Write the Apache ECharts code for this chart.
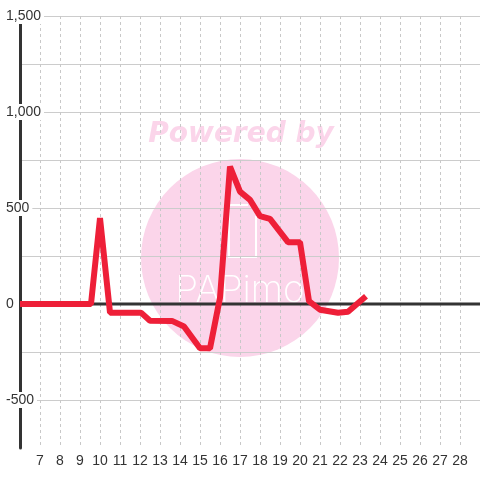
<!DOCTYPE html>
<html>
<head>
<meta charset="utf-8">
<script src="https://cdn.jsdelivr.net/npm/echarts@6/dist/echarts.min.js"></script>
<style>
html,body{margin:0;padding:0;background:#ffffff;}
#chart{width:480px;height:480px;}
</style>
</head>
<body>
<div id="chart"></div>
<script>
// Time of day (hours) for each point of the line
const times = [6, 9.55, 10, 10.5, 12.05, 12.5, 13.6, 14.2, 15, 15.5, 16, 16.5, 17, 17.5, 18, 18.5, 19.4, 20, 20.45, 21, 21.9, 22.4, 23.3];
// Values at those times
const values = [0, 0, 448, -45, -45, -87, -88, -117, -231, -231, 33, 716, 585, 542, 458, 443, 322, 322, 15, -30, -46, -40, 40];
// Axis ranges
const xRange = [6, 29];
const yRange = [-750, 1500];
const yLabelStep = 500;
// Zero reference line endpoints (in data units)
const zeroTimes = [6, 29];
const zeroValues = [0, 0];

const lineData = times.map((t, i) => [t, values[i]]);
const zeroData = zeroTimes.map((t, i) => [t, zeroValues[i]]);

const chart = echarts.init(document.getElementById('chart'), null, {renderer: 'canvas'});
const PINK = '#fbd5ea';
chart.setOption({
  backgroundColor: '#ffffff',
  animation: false,
  grid: {left: 20, right: 0, top: 16, bottom: 32, containLabel: false},
  graphic: {
    elements: [
      {type: 'circle', z: -10, silent: true, shape: {cx: 240, cy: 258, r: 99}, style: {fill: PINK}},
      {type: 'text', z: -10, silent: true, x: 241, y: 135,
        style: {text: 'Powered by', font: 'italic bold 28px "DejaVu Sans"', fill: PINK, align: 'center', verticalAlign: 'middle'}},
      {type: 'polyline', z: -9, silent: true,
        shape: {points: [[248, 205], [229, 205], [229, 257], [256, 257], [256, 216]]},
        style: {stroke: '#ffffff', lineWidth: 2, fill: null}},
      {type: 'text', z: -9, silent: true, x: 240, y: 291,
        style: {text: 'PAPimo', font: '200 37px Inter', fill: '#ffffff', align: 'center', verticalAlign: 'middle'}}
    ]
  },
  xAxis: {
    type: 'value',
    min: xRange[0], max: xRange[1], interval: 1,
    axisLine: {show: false},
    axisTick: {show: false},
    axisLabel: {
      show: true, margin: 6, color: '#333', fontSize: 14, fontFamily: 'Liberation Sans',
      showMinLabel: false, showMaxLabel: false
    },
    splitLine: {show: true, lineStyle: {color: '#c8c8c8', width: 1, type: [3, 3]}}
  },
  yAxis: {
    type: 'value',
    min: yRange[0], max: yRange[1], interval: 250,
    axisLine: {show: true, onZero: false, lineStyle: {color: '#333333', width: 3}},
    axisTick: {show: false},
    axisLabel: {
      show: true, align: 'left', margin: 15, color: '#333', fontSize: 14, fontFamily: 'Liberation Sans',
      backgroundColor: '#ffffff', padding: [1, 3, 1, 1],
      formatter: v => (v % yLabelStep === 0 ? v.toLocaleString('en-US') : '')
    },
    splitLine: {show: true, showMinLine: false, lineStyle: {color: '#cccccc', width: 1}}
  },
  series: [
    {
      type: 'line', z: 1, data: zeroData, symbol: 'none', silent: true,
      lineStyle: {color: '#333333', width: 3}
    },
    {
      type: 'line', z: 3, data: lineData, symbol: 'none', silent: true,
      lineStyle: {color: '#ee1f38', width: 6}
    }
  ]
});
</script>
</body>
</html>
